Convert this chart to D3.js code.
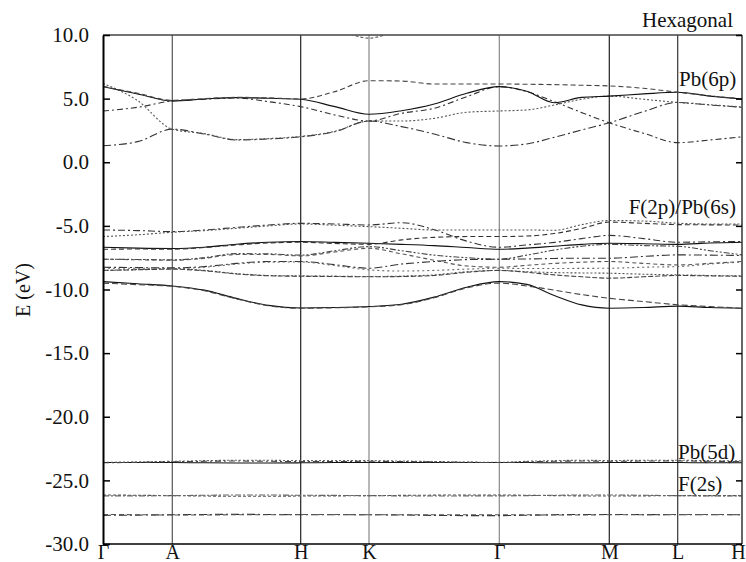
<!DOCTYPE html>
<html>
<head>
<meta charset="utf-8">
<script src="https://cdn.jsdelivr.net/npm/d3@7"></script>
<style>
body { margin: 0; background: #fff; }
</style>
</head>
<body>
<div id="mainDiv"></div>
<script>
'use strict';

var kLabels = ["Γ", "A", "H", "K", "Γ", "M", "L", "H"];
var kTicks = [0, 69.3, 197.7, 266, 396.3, 506.3, 574.7, 639];
// sampled k points along the path
var kGrid = [0, 34.65, 69.3, 101.4, 133.5, 165.6, 197.7, 231.85, 266, 298.6, 331.15,
             363.7, 396.3, 423.8, 451.3, 478.8, 506.3, 540.5, 574.7, 606.85, 639];

var yTicks = [10, 5, 0, -5, -10, -15, -20, -25, -30];

// conduction bands, Pb(6p) (eV at each kGrid point)
var cond1 = [1.3, 1.62, 2.6, 2.22, 1.75, 1.83, 2.0, 2.4, 3.24, 2.8, 2.22, 1.54, 1.28, 1.44, 1.96, 2.54, 3.1, 3.98, 4.7, 4.5, 4.32];
var cond2 = [6.2, 4.84, 2.6, 2.25, 1.78, 1.86, 2.03, 2.43, 3.24, 3.24, 3.45, 3.93, 4.03, 4.11, 4.5, 4.95, 5.2, 4.95, 4.7, 4.52, 4.34];
var cond3 = [4.03, 4.32, 4.82, 4.95, 5.05, 4.76, 4.37, 3.72, 3.24, 3.85, 4.24, 5.15, 5.94, 5.55, 4.76, 3.9, 3.1, 2.28, 1.54, 1.75, 2.0];
var cond4 = [5.94, 5.37, 4.82, 4.97, 5.08, 5.03, 4.95, 4.37, 3.77, 4.05, 4.58, 5.42, 5.94, 5.58, 4.68, 5.1, 5.2, 5.37, 5.5, 5.2, 4.97];
var cond5 = [5.96, 5.42, 4.86, 5.0, 5.1, 5.06, 4.97, 5.55, 6.41, 6.38, 6.15, 6.15, 6.15, 6.13, 6.1, 6.05, 6.0, 5.81, 5.5, 5.22, 4.99];
var cond6 = [13, 13, 13, 13, 13, 12.5, 12, 10.6, 9.75, 10.6, 12, 12.5, 13, 13, 13, 13, 13, 13, 13, 13, 13];

// valence bands, F(2p)/Pb(6s)
var val1 = [-5.32, -5.37, -5.45, -5.32, -5.12, -4.93, -4.8, -4.85, -4.93, -4.75, -5.3, -6.2, -6.68, -6.5, -6.3, -6.0, -5.75, -6.0, -6.29, -6.25, -6.23];
var val2 = [-5.84, -5.7, -5.5, -5.37, -5.19, -5.0, -4.85, -4.95, -5.06, -5.19, -5.32, -5.32, -5.32, -5.32, -5.35, -4.9, -4.58, -4.62, -4.79, -4.85, -4.85];
var val3 = [-6.68, -6.75, -6.78, -6.68, -6.44, -6.29, -6.23, -6.3, -6.37, -6.45, -6.55, -6.7, -6.84, -6.75, -6.6, -6.45, -6.37, -6.4, -6.45, -6.35, -6.29];
var val4 = [-6.84, -6.82, -6.83, -6.7, -6.5, -6.34, -6.29, -6.38, -6.45, -6.1, -5.9, -5.84, -5.84, -5.8, -5.6, -5.2, -4.7, -4.8, -4.9, -4.92, -4.93];
var val5 = [-7.62, -7.64, -7.67, -7.5, -7.18, -7.2, -7.3, -6.95, -6.63, -6.95, -7.3, -7.5, -7.62, -7.3, -6.9, -6.6, -6.45, -6.55, -6.6, -6.95, -7.28];
var val6 = [-7.62, -7.66, -7.7, -7.55, -7.25, -7.25, -7.36, -7.05, -6.76, -7.2, -7.7, -8.15, -8.25, -8.1, -7.95, -7.85, -7.8, -7.95, -8.07, -7.95, -7.8];
var val7 = [-8.25, -8.28, -8.3, -8.2, -7.95, -7.8, -7.8, -8.05, -8.33, -8.0, -7.8, -7.65, -7.62, -7.6, -7.56, -7.54, -7.54, -7.4, -7.28, -7.3, -7.33];
var val8 = [-8.33, -8.33, -8.33, -8.25, -8.0, -7.85, -7.84, -8.12, -8.46, -8.55, -8.5, -8.4, -8.33, -8.35, -8.35, -8.34, -8.33, -8.25, -8.2, -8.0, -7.84];
var val9 = [-8.5, -8.43, -8.36, -8.5, -8.75, -8.9, -8.93, -8.95, -8.98, -8.95, -8.85, -8.6, -8.5, -8.6, -8.67, -8.7, -8.72, -8.8, -8.85, -8.9, -8.93];
var val10 = [-8.5, -8.45, -8.4, -8.53, -8.78, -8.92, -8.96, -8.98, -9.0, -8.98, -8.9, -8.65, -8.5, -8.65, -8.85, -9.0, -9.11, -9.0, -8.9, -8.93, -8.96];
var val11 = [-9.38, -9.55, -9.72, -10.05, -10.7, -11.25, -11.45, -11.42, -11.34, -11.16, -10.6, -9.82, -9.38, -9.6, -10.47, -11.21, -11.47, -11.42, -11.31, -11.42, -11.47];
var val12 = [-9.5, -9.62, -9.75, -10.1, -10.74, -11.28, -11.47, -11.44, -11.36, -11.2, -10.65, -9.88, -9.5, -9.72, -10.05, -10.4, -10.69, -10.95, -11.2, -11.34, -11.47];

// semicore bands, Pb(5d) and F(2s)
var deep1 = [-23.6, -23.6, -23.6, -23.62, -23.63, -23.63, -23.62, -23.6, -23.6, -23.6, -23.6, -23.6, -23.6, -23.6, -23.62, -23.62, -23.6, -23.6, -23.6, -23.62, -23.62];
var deep2 = [-23.58, -23.55, -23.5, -23.45, -23.42, -23.42, -23.45, -23.45, -23.45, -23.48, -23.52, -23.56, -23.58, -23.5, -23.45, -23.42, -23.44, -23.42, -23.42, -23.45, -23.47];
var deep3 = [-23.62, -23.58, -23.54, -23.5, -23.48, -23.5, -23.53, -23.52, -23.5, -23.52, -23.55, -23.58, -23.6, -23.55, -23.5, -23.48, -23.5, -23.48, -23.47, -23.5, -23.52];
var deep4 = [-26.15, -26.17, -26.2, -26.23, -26.25, -26.25, -26.23, -26.22, -26.2, -26.18, -26.16, -26.15, -26.15, -26.17, -26.2, -26.22, -26.23, -26.22, -26.2, -26.2, -26.2];
var deep5 = [-26.22, -26.22, -26.2, -26.17, -26.15, -26.15, -26.17, -26.18, -26.2, -26.22, -26.23, -26.22, -26.22, -26.2, -26.17, -26.15, -26.15, -26.17, -26.2, -26.22, -26.22];
var deep6 = [-27.75, -27.73, -27.7, -27.68, -27.67, -27.68, -27.7, -27.7, -27.7, -27.72, -27.75, -27.77, -27.77, -27.74, -27.7, -27.68, -27.68, -27.69, -27.7, -27.7, -27.7];
var deep7 = [-27.68, -27.7, -27.72, -27.72, -27.7, -27.7, -27.68, -27.68, -27.7, -27.7, -27.7, -27.7, -27.7, -27.7, -27.72, -27.72, -27.7, -27.7, -27.68, -27.68, -27.7];

var regionLabels = ["Hexagonal", "Pb(6p)", "F(2p)/Pb(6s)", "Pb(5d)", "F(2s)"];

var myApp = {};

myApp.bands = [cond1, cond2, cond3, cond4, cond5, cond6,
               val1, val2, val3, val4, val5, val6, val7, val8, val9, val10, val11, val12,
               deep1, deep2, deep3, deep4, deep5, deep6, deep7];

// line look for each band, same order as myApp.bands
myApp.dashes = ["8,3,2,3", "2,2", "6,3,2,3", "none", "5,3", "3,2",
                "7,3,2,3", "2,2", "none", "5,3", "6,2,2,2,2,2", "4,3", "8,3,2,3", "2,3", "2,2", "5,2", "none", "6,3",
                "none", "2,2", "6,3,2,3", "3,2", "6,2,2,2", "8,3,2,3", "5,3"];
myApp.colors = ["#333", "#555", "#333", "#111", "#444", "#666",
                "#333", "#555", "#111", "#333", "#444", "#555", "#333", "#666", "#555", "#444", "#111", "#444",
                "#111", "#666", "#444", "#555", "#666", "#333", "#555"];
myApp.vlineColors = ["#000", "#555", "#222", "#888", "#888", "#222", "#333", "#000"];

myApp.font = "'Liberation Serif', 'DejaVu Serif', serif";

myApp.appendSvg = function (element, w, h)
{
    return d3.select(element).append("svg")
        .attr("width", w)
        .attr("height", h);
}

myApp.run = function ()
{
    var svg = myApp.appendSvg("#mainDiv", 746, 562);
    var left = 103, right = 742, top = 35, bottom = 544;

    var x = d3.scaleLinear().domain([kTicks[0], kTicks[kTicks.length - 1]]).range([left, right]);
    var y = d3.scaleLinear().domain([-30, 10]).range([bottom, top]);

    svg.append("defs").append("clipPath").attr("id", "plotClip")
        .append("rect")
        .attr("x", left).attr("y", top)
        .attr("width", right - left).attr("height", bottom - top);

    // vertical lines at high-symmetry points
    svg.append("g").selectAll("line")
        .data(kTicks.slice(1, -1))
        .enter()
        .append("line")
            .attr("x1", function (d) { return x(d); })
            .attr("x2", function (d) { return x(d); })
            .attr("y1", top)
            .attr("y2", bottom)
            .attr("stroke", function (d, i) { return myApp.vlineColors[i + 1]; })
            .attr("stroke-width", 1.2);

    // bands
    var line = d3.line()
        .x(function (d, i) { return x(kGrid[i]); })
        .y(function (d) { return y(d); })
        .curve(d3.curveMonotoneX);

    svg.append("g")
        .attr("clip-path", "url(#plotClip)")
        .selectAll("path")
        .data(myApp.bands)
        .enter()
        .append("path")
            .attr("d", line)
            .attr("fill", "none")
            .attr("stroke", function (d, i) { return myApp.colors[i]; })
            .attr("stroke-width", 1.1)
            .attr("stroke-dasharray", function (d, i) { return myApp.dashes[i]; });

    // frame
    svg.append("line").attr("x1", left).attr("x2", right).attr("y1", top).attr("y2", top)
        .attr("stroke", "#444").attr("stroke-width", 1.5);
    svg.append("line").attr("x1", right).attr("x2", right).attr("y1", top).attr("y2", bottom)
        .attr("stroke", "#333").attr("stroke-width", 1.5);
    svg.append("line").attr("x1", left).attr("x2", right).attr("y1", bottom).attr("y2", bottom)
        .attr("stroke", "#000").attr("stroke-width", 1.5);

    // left axis, ticks pointing inward
    var yAxis = d3.axisLeft(y)
        .tickValues(yTicks)
        .tickFormat(function (d) { return d.toFixed(1); })
        .tickSizeInner(-7)
        .tickSizeOuter(0)
        .tickPadding(14);
    var gy = svg.append("g").attr("transform", "translate(" + left + ",0)").call(yAxis);
    gy.select(".domain").attr("stroke", "#000").attr("stroke-width", 2);
    gy.selectAll(".tick line").attr("stroke", "#000").attr("stroke-width", 1.5);
    gy.selectAll("text")
        .attr("font-family", myApp.font)
        .attr("font-size", "21px")
        .attr("fill", "#111");

    // right axis, ticks only
    var yAxisR = d3.axisRight(y)
        .tickValues(yTicks)
        .tickFormat("")
        .tickSizeInner(-6)
        .tickSizeOuter(0);
    var gr = svg.append("g").attr("transform", "translate(" + right + ",0)").call(yAxisR);
    gr.select(".domain").remove();
    gr.selectAll(".tick line").attr("stroke", "#000").attr("stroke-width", 1.5);

    // k-point labels
    var xAxis = d3.axisBottom(x)
        .tickValues(kTicks)
        .tickFormat(function (d, i) { return kLabels[i]; })
        .tickSize(0)
        .tickPadding(1);
    var gx = svg.append("g").attr("transform", "translate(0," + bottom + ")").call(xAxis);
    gx.select(".domain").remove();
    gx.selectAll("text")
        .attr("font-family", myApp.font)
        .attr("font-size", "20px")
        .attr("fill", "#111")
        .attr("dx", function (d, i) { return i === kTicks.length - 1 ? -4 : 0; });

    // y title
    svg.append("text")
        .attr("transform", "translate(30,290) rotate(-90)")
        .attr("text-anchor", "middle")
        .attr("font-family", myApp.font)
        .attr("font-size", "20px")
        .attr("fill", "#111")
        .text("E (eV)");

    // region labels
    var labelPos = [[733, 27, "end"], [679, 86, "start"], [736, 214, "end"], [678, 459, "start"], [678, 491, "start"]];
    svg.append("g").selectAll("text")
        .data(regionLabels)
        .enter()
        .append("text")
            .attr("x", function (d, i) { return labelPos[i][0]; })
            .attr("y", function (d, i) { return labelPos[i][1]; })
            .attr("text-anchor", function (d, i) { return labelPos[i][2]; })
            .attr("font-family", myApp.font)
            .attr("font-size", "21px")
            .attr("fill", "#111")
            .text(function (d) { return d; });
}

window.onload = myApp.run;
</script>
</body>
</html>
